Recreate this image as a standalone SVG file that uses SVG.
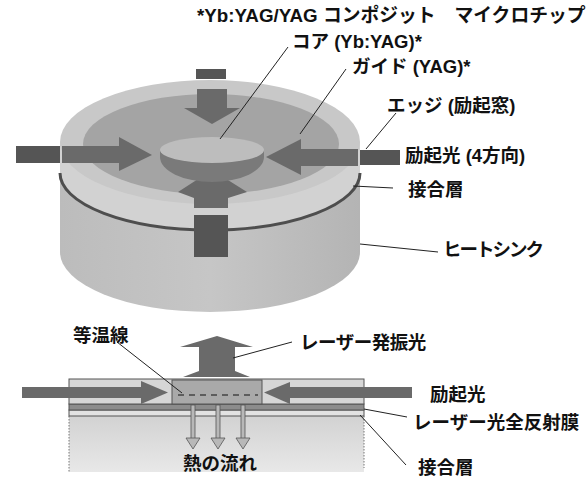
<svg xmlns="http://www.w3.org/2000/svg" width="588" height="479" viewBox="0 0 588 479">
  <style>
    text { font-family: "Liberation Sans", "Noto Sans CJK JP", sans-serif; font-weight: bold; fill: #111; }
    .lbl { font-size: 18.5px; }
    .title { font-size: 18.8px; }
    .lead { stroke: #222; stroke-width: 1; fill: none; }
    .pump { fill: #6a6a6a; }
    .block { fill: #555; }
    .edge { stroke: #555; stroke-width: 1; }
    .heat { fill: #b8b8b8; stroke: #555; stroke-width: 0.8; }
  </style>
  <defs>
    <linearGradient id="sinkSide" x1="0" y1="0" x2="1" y2="0">
      <stop offset="0" stop-color="#bcbcbc"/>
      <stop offset="0.5" stop-color="#c6c6c6"/>
      <stop offset="1" stop-color="#b4b4b4"/>
    </linearGradient>
    <linearGradient id="sinkFade" x1="0" y1="0" x2="0" y2="1">
      <stop offset="0" stop-color="#d2d2d2"/>
      <stop offset="1" stop-color="#e8e8e8"/>
    </linearGradient>
  </defs>

  <rect width="588" height="479" fill="#fff"/>

  <!-- title -->
  <text class="title" x="197" y="22">*Yb:YAG/YAG コンポジット　マイクロチップ</text>

  <!-- 3D microchip on heat sink -->
  <g id="chip3d">
    <!-- heat sink body -->
    <path d="M60,170 L60,252 A150,60 0 0 0 360,252 L360,170 Z" fill="url(#sinkSide)"/>
    <!-- chip side wall -->
    <path d="M60,142 L60,172 A150,58 0 0 0 360,172 L360,142 Z" fill="#d2d2d2"/>
    <!-- bonding layer -->
    <path d="M60,173 A150,57 0 0 0 360,173" fill="none" stroke="#4e4e4e" stroke-width="3"/>
    <!-- top face: edge (pump window) -->
    <ellipse cx="210" cy="142" rx="150" ry="62" fill="#c8c8c8"/>
    <!-- guide -->
    <ellipse cx="211" cy="144" rx="128" ry="50" fill="#a4a4a4"/>

    <!-- pump arrows on the top face -->
    <rect class="pump" x="197" y="89" width="30" height="20"/>
    <polygon class="pump" points="184,108 240,108 212,124"/>
    <rect class="pump" x="62" y="146" width="60" height="17"/>
    <polygon class="pump" points="119,137 152,155 119,171"/>
    <rect class="pump" x="298" y="149" width="60" height="17"/>
    <polygon class="pump" points="301,139 266,157 301,175"/>
    <polygon class="pump" points="178,192 212,170 247,192 228,198 228,208 194,208 194,198"/>

    <!-- core (Yb:YAG) -->
    <path d="M160,150 L160,157 A52,25 0 0 0 264,157 L264,150 Z" fill="#7a7a7a"/>
    <ellipse cx="212" cy="150" rx="52" ry="13" fill="#bdbdbd"/>

    <!-- pump light blocks entering the chip -->
    <rect class="block" x="196" y="69" width="30" height="10"/>
    <rect class="block" x="16" y="146" width="44" height="17"/>
    <rect class="block" x="360" y="150" width="40" height="15"/>
    <rect class="block" x="194" y="215" width="34" height="42"/>
  </g>

  <!-- cross section -->
  <g id="section">
    <!-- heat sink -->
    <rect x="69" y="416" width="295" height="56" fill="url(#sinkFade)"/>
    <path d="M69,416 L69,472 M364,416 L364,468" stroke="#777" stroke-width="1" stroke-dasharray="1.5 1.5"/>
    <!-- bonding layer -->
    <rect x="69" y="410" width="295" height="6" fill="#e2e2e2" class="edge"/>
    <!-- total reflection film -->
    <rect x="69" y="404" width="295" height="6" fill="#8c8c8c" class="edge"/>
    <!-- guide / edge region -->
    <rect x="69" y="379" width="295" height="25" fill="#d6d6d6" class="edge"/>
    <!-- core -->
    <rect x="172" y="380" width="90" height="24" fill="#a9a9a9" class="edge"/>
    <!-- isotherm -->
    <line x1="178" y1="395" x2="258" y2="395" stroke="#444" stroke-width="1.6" stroke-dasharray="6 5"/>

    <!-- pump arrows -->
    <rect class="pump" x="22" y="387" width="121" height="11"/>
    <polygon class="pump" points="141,381 168,392.5 141,404"/>
    <rect class="pump" x="288" y="387" width="124" height="11"/>
    <polygon class="pump" points="290,382 264,392.5 290,404"/>

    <!-- laser output -->
    <polygon class="pump" points="199,347 180,347 217,336 253,347 235,347 235,371 250,377 183,377 199,371"/>

    <!-- heat flow -->
    <g id="heatflow">
      <rect class="heat" x="191" y="405" width="4" height="34"/>
      <polygon class="heat" points="186,438 200,438 193,449"/>
      <rect class="heat" x="216" y="405" width="4" height="34"/>
      <polygon class="heat" points="211,438 225,438 218,449"/>
      <rect class="heat" x="241" y="405" width="4" height="34"/>
      <polygon class="heat" points="236,438 250,438 243,449"/>
    </g>
  </g>

  <!-- leader lines -->
  <g id="connectors">
    <line class="lead" x1="288" y1="47" x2="220" y2="139"/>
    <line class="lead" x1="346" y1="69" x2="300" y2="134"/>
    <line class="lead" x1="396" y1="113" x2="366" y2="149"/>
    <line class="lead" x1="353" y1="186" x2="393" y2="188"/>
    <line class="lead" x1="360" y1="244" x2="438" y2="252"/>
    <line class="lead" x1="117" y1="342" x2="182" y2="393"/>
    <line class="lead" x1="292" y1="342" x2="233" y2="358"/>
    <line class="lead" x1="364" y1="409" x2="407" y2="417"/>
    <line class="lead" x1="360" y1="415" x2="406" y2="465"/>
  </g>

  <!-- labels -->
  <g id="labels">
    <text class="lbl" x="292" y="48">コア (Yb:YAG)*</text>
    <text class="lbl" x="352" y="73">ガイド (YAG)*</text>
    <text class="lbl" x="387" y="112">エッジ (励起窓)</text>
    <text class="lbl" x="405" y="162">励起光 (4方向)</text>
    <text class="lbl" x="408" y="196">接合層</text>
    <text class="lbl" x="443" y="256" letter-spacing="-2">ヒートシンク</text>
    <text class="lbl" x="73" y="342">等温線</text>
    <text class="lbl" x="300" y="349" letter-spacing="-0.5">レーザー発振光</text>
    <text class="lbl" x="430" y="401">励起光</text>
    <text class="lbl" x="413" y="429">レーザー光全反射膜</text>
    <text class="lbl" x="418" y="474">接合層</text>
    <text class="lbl" x="183" y="470">熱の流れ</text>
  </g>
</svg>
